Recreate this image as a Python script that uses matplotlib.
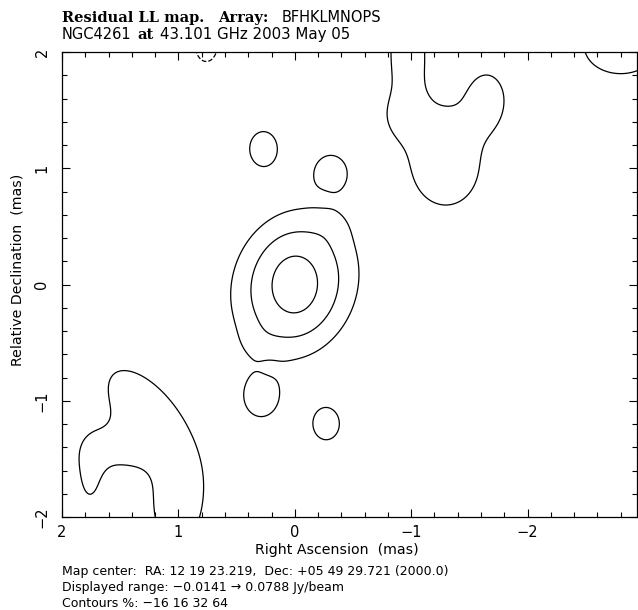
import numpy as np
import matplotlib
matplotlib.use("Agg")
import matplotlib.pyplot as plt
from matplotlib.ticker import MultipleLocator

plt.rcParams['contour.negative_linestyle'] = 'dashed'

# map values
peak = 0.0788          # Jy/beam
vmin = -0.0141
levels_pct = [-16, 16, 32, 64]

# residual map described as a few gaussian blobs, read off by eye
# x, y in mas, amp as fraction of peak, sa/sb sigma (mas), pa = angle of sa axis (deg)
comp_x   = [0.0,  0.0,  -0.33, 0.33,  0.27,  -0.31, 0.29,  -0.27, 0.23,  -0.26,
            -1.30, -0.97, -1.65, -1.30, -0.92, -2.80, 0.76,
            1.25, 1.02, 1.76, 1.65, 1.40]
comp_y   = [0.0,  0.0,  0.52,  -0.52, 1.17,  0.965, -0.97, -1.20, -0.73, 0.77,
            1.00, 2.00,  1.60,  1.35,  1.45,  2.05,  2.06,
            -1.15, -1.95, -1.65, -1.42, -1.40]
comp_amp = [0.45, 0.55, 0.05,  0.05,  0.28,  0.28,  0.28,  0.28,  -0.05, -0.04,
            0.24, 0.25,  0.25,  0.10,  0.12,  0.25,  -0.25,
            0.28, 0.24, 0.20, 0.17, 0.10]
comp_sa  = [0.18, 0.42, 0.12,  0.12,  0.136, 0.128, 0.148, 0.127, 0.07,  0.07,
            0.35, 0.40,  0.20,  0.18,  0.15,  0.33,  0.15,
            0.46, 0.30, 0.22, 0.16, 0.15]
comp_sb  = [0.14, 0.34, 0.12,  0.12,  0.109, 0.115, 0.124, 0.105, 0.07,  0.07,
            0.30, 0.15,  0.14,  0.18,  0.15,  0.25,  0.10,
            0.22, 0.19, 0.09, 0.14, 0.15]
comp_pa  = [90,   110,  0,     0,     90,    90,    90,    90,    0,     0,
            90,   90,    90,    0,     0,     0,     90,
            52,   90,   90,   0,    0]


def gauss(X, Y, x0, y0, amp, sa, sb, pa):
    t = np.deg2rad(pa)
    u = (X - x0) * np.cos(t) + (Y - y0) * np.sin(t)
    v = -(X - x0) * np.sin(t) + (Y - y0) * np.cos(t)
    return amp * np.exp(-0.5 * (u / sa) ** 2 - 0.5 * (v / sb) ** 2)


xs = np.linspace(2.1, -3.05, 500)
ys = np.linspace(-2.1, 2.1, 420)
X, Y = np.meshgrid(xs, ys)
Z = np.zeros_like(X)
for i in range(len(comp_x)):
    Z += gauss(X, Y, comp_x[i], comp_y[i], comp_amp[i], comp_sa[i], comp_sb[i], comp_pa[i])
Z = Z * peak

W, H = 638, 610
fig = plt.figure(figsize=(W / 100, H / 100), dpi=100)
ax = fig.add_axes([62 / W, 1 - 517 / H, 575 / W, 465 / H])

ax.contour(X, Y, Z, levels=[peak * p / 100 for p in levels_pct], colors='black', linewidths=0.9)

ax.set_xlim(2, -2.94)
ax.set_ylim(-2, 2)
ax.set_xticks([2, 1, 0, -1, -2])
ax.set_yticks([-2, -1, 0, 1, 2])
ax.xaxis.set_minor_locator(MultipleLocator(0.2))
ax.yaxis.set_minor_locator(MultipleLocator(0.2))
ax.tick_params(which='both', direction='in', top=True, right=True, width=0.8, labelsize=10.5)
ax.tick_params(which='major', length=5.8)
ax.tick_params(which='minor', length=3.6)
ax.tick_params(axis='x', pad=6)
ax.tick_params(axis='y', pad=9, labelrotation=90)
for lbl in ax.get_yticklabels():
    lbl.set_va('center')
for s in ax.spines.values():
    s.set_linewidth(0.9)

fig.text(337 / W, 1 - 550 / H, "Right Ascension  (mas)", ha='center', va='center', fontsize=10.2)
fig.text(18 / W, 1 - 270 / H, "Relative Declination  (mas)", ha='center', va='center',
         rotation=90, fontsize=10.2)

# title lines (mix of roman and sans like pgplot)
def put(x, y, s, serif=False, size=10.5):
    fam = 'DejaVu Serif' if serif else 'DejaVu Sans'
    fig.text(x / W, 1 - y / H, s, ha='left', va='baseline', fontsize=size, family=fam,
             weight='bold' if serif else 'normal')

put(62, 22, "Residual LL map.", serif=True)
put(218, 22, "Array:", serif=True)
put(282, 22, "BFHKLMNOPS")
put(62, 39, "NGC4261")
put(137, 39, "at", serif=True)
put(160, 39, "43.101 GHz 2003 May 05", size=10.8)

put(62, 575, "Map center:  RA: 12 19 23.219,  Dec: +05 49 29.721 (2000.0)", size=9)
put(62, 591, "Displayed range: \u2212%.4f \u2192 %.4f Jy/beam" % (-vmin, peak), size=9)
put(62, 607, "Contours %: " + " ".join(str(p).replace('-', '\u2212') for p in levels_pct), size=9)

fig.savefig("out.png", dpi=100)
